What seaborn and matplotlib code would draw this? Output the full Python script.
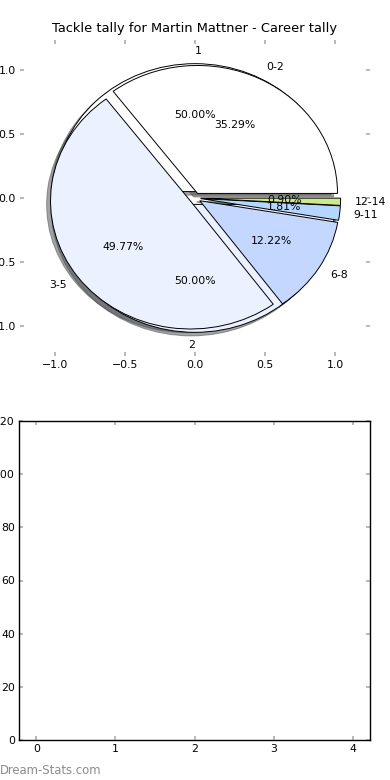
import matplotlib
matplotlib.use("Agg")
import matplotlib.pyplot as plt
import seaborn as sns

# tackle tally data
season_labels = ['1', '2']
season_values = [1, 1]
range_labels = ['0-2', '3-5', '6-8', '9-11', '12-14']
range_values = [78, 110, 27, 4, 2]
range_colors = ['#ffffff', '#ebf1ff', '#c3d7ff', '#b5d7ff', '#cde98c']
season_colors = ['#ffffff', '#ebf1ff']
bar_positions = [0, 1, 2, 3, 4]
bar_values = [0, 0, 0, 0, 0]

sns.set_theme(style="white")
plt.rcParams['font.family'] = ['DejaVu Sans']
plt.rcParams['text.color'] = 'black'
plt.rcParams['axes.labelcolor'] = 'black'
FS = 7.8


def style_ticks(ax):
    ax.tick_params(axis='both', which='both', direction='in', length=3,
                   color='#b0b0b0', labelcolor='black', labelsize=FS, pad=3,
                   top=True, right=True, bottom=True, left=True)


def plot_pie(ax):
    """Overlay the season pie and the tackle range pie."""
    _, season_texts, _ = ax.pie(
        season_values, labels=season_labels, colors=season_colors,
        explode=[0.05, 0.05], autopct='%1.2f%%', shadow=True,
        wedgeprops={'edgecolor': 'black', 'linewidth': 0.7},
        textprops={'fontsize': FS, 'color': 'black'})
    season_texts[0].set_ha('left')
    season_texts[1].set_ha('right')
    ax.pie(range_values, labels=range_labels, colors=range_colors,
           explode=[0.04] * len(range_values), autopct='%1.2f%%', shadow=True,
           wedgeprops={'edgecolor': 'black', 'linewidth': 0.7},
           textprops={'fontsize': FS, 'color': 'black'})
    ax.set_aspect('auto')
    ax.set_xlim(-1.25, 1.25)
    ax.set_ylim(-1.235, 1.235)
    ax.set_xticks([-1.0, -0.5, 0.0, 0.5, 1.0])
    ax.set_yticks([-1.0, -0.5, 0.0, 0.5, 1.0])
    ax.set_xticklabels(['\u22121.0', '\u22120.5', '0.0', '0.5', '1.0'])
    ax.set_yticklabels(['\u22121.0', '\u22120.5', '0.0', '0.5', '1.0'])
    ax.axis('on')
    for s in ax.spines.values():
        s.set_visible(False)
    style_ticks(ax)
    ax.set_title('Tackle tally for Martin Mattner - Career tally',
                 fontsize=9.4, pad=6, color='black')


def plot_bars(ax):
    """Empty tally bars."""
    sns.barplot(x=bar_positions, y=bar_values, ax=ax, native_scale=True,
                color='#c3d7ff')
    ax.set_xlim(-0.22, 4.22)
    ax.set_ylim(0, 120)
    ax.set_xticks(bar_positions)
    ax.set_yticks([0, 20, 40, 60, 80, 100, 120])
    for s in ax.spines.values():
        s.set_visible(True)
        s.set_color('black')
        s.set_linewidth(1.0)
    style_ticks(ax)


if __name__ == "__main__":
    fig = plt.figure(figsize=(3.9, 7.8), dpi=100)
    ax1 = fig.add_axes([20 / 390, 1 - 356 / 780, 350 / 390, 316 / 780])
    ax2 = fig.add_axes([19 / 390, 1 - 740 / 780, 351 / 390, 319 / 780])
    plot_pie(ax1)
    plot_bars(ax2)
    fig.text(0.0, 1 - 771 / 780, 'Dream-Stats.com', fontsize=8.4, color='#8c8c8c',
             va='center', ha='left')
    fig.savefig('out.png', dpi=100)
